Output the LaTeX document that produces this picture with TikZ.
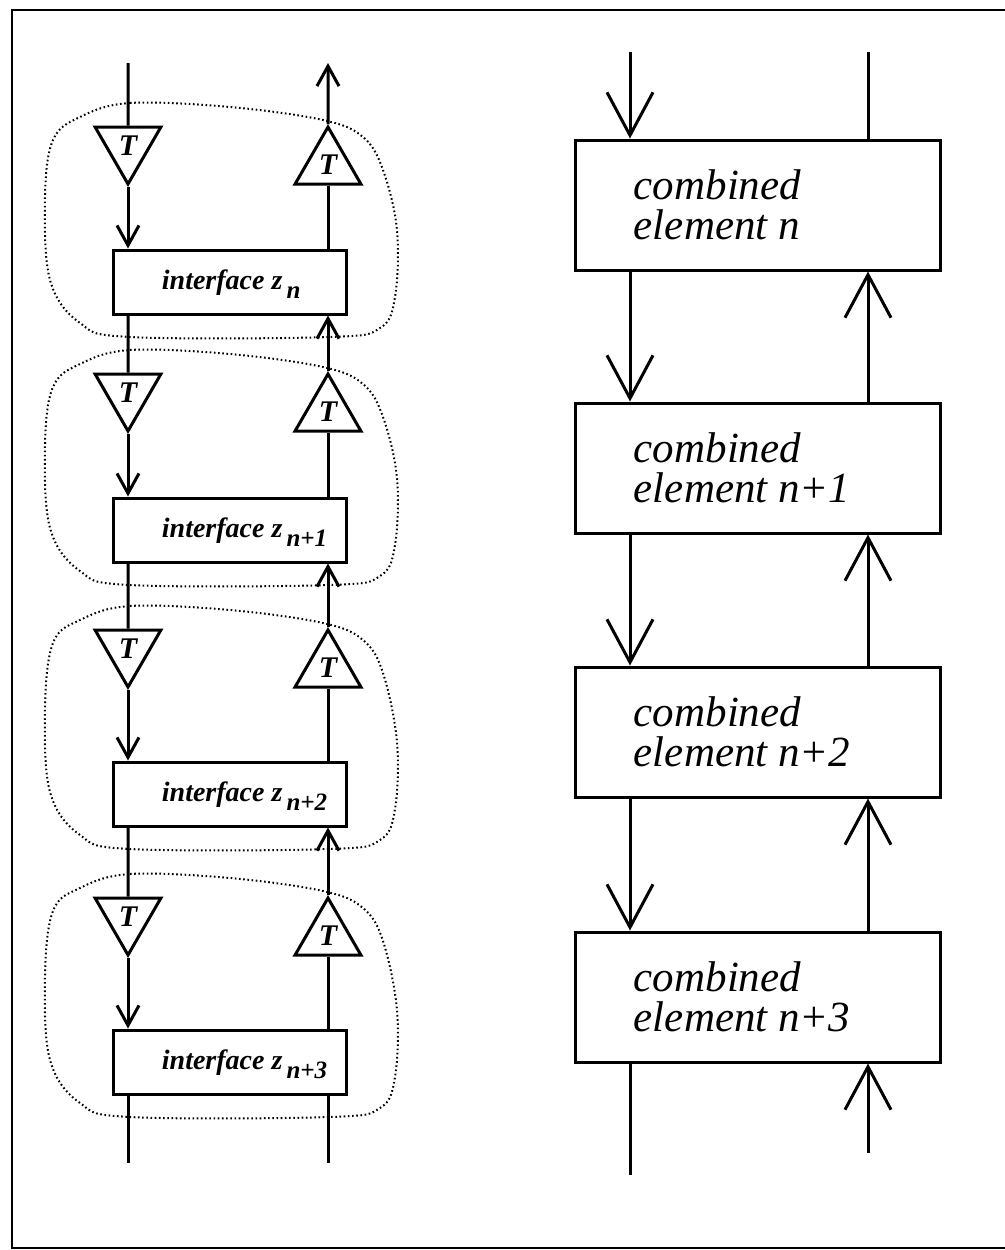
\documentclass[tikz,border=0pt]{standalone}
\usepackage{fontspec}
\newfontfamily\ifont{Liberation Serif}
\usetikzlibrary{arrows.meta,shapes.geometric}
\newcommand{\zsub}[1]{z\raisebox{-4.5pt}{\fontsize{12.5}{12.5}\selectfont\,#1}}
\tikzset{
  wire/.style={line width=1.5pt},
  sarr/.style={wire, -{Straight Barb[length=10pt, width=11pt]}},
  barr/.style={wire, -{Straight Barb[length=21.5pt, width=23pt]}},
  ifbox/.style={draw, line width=1.5pt, minimum width=116.5pt, minimum height=32pt, inner sep=0pt},
  elbox/.style={draw, line width=1.5pt, minimum width=182.5pt, minimum height=65pt, inner sep=0pt},
  tdown/.style={draw, line width=1.5pt, regular polygon, regular polygon sides=3, shape border rotate=180,
    minimum size=38pt, inner sep=0pt, font=\ifont\fontsize{15}{15}\selectfont\bfseries\itshape},
  tup/.style={draw, line width=1.5pt, regular polygon, regular polygon sides=3,
    minimum size=38pt, inner sep=0pt, font=\ifont\fontsize{15}{15}\selectfont\bfseries\itshape},
  iftxt/.style={inner sep=0pt, anchor=base west, font=\ifont\fontsize{14}{14}\selectfont\bfseries\itshape},
  eltxt/.style={inner sep=0pt, anchor=west, align=left, font=\ifont\fontsize{21.5}{20}\selectfont\itshape},
  blob/.style={line width=1pt, dash pattern=on 0.8pt off 1.3pt},
}
\begin{document}
\begin{tikzpicture}[x=0.5pt, y=-0.5pt]
\useasboundingbox (0,0) rectangle (1005,1250);
\draw[line width=1.2pt] (1005,10) -- (12,10) -- (12,1248) -- (1005,1248);

% left column
\node[tdown] (dL1) at (128,146) {T};
\node[tup] (uR1) at (328,165) {T};
\node[ifbox] (ifz1) at (229.5,282) {};
\node[iftxt] (ift1) at ([xshift=25pt, yshift=-3.5pt]ifz1.west) {interface \zsub{n}};

\node[tdown] (dL2) at (128,393) {T};
\node[tup] (uR2) at (328,412) {T};
\node[ifbox] (ifz2) at (229.5,530) {};
\node[iftxt] (ift2) at ([xshift=25pt, yshift=-3.5pt]ifz2.west) {interface \zsub{n+1}};

\node[tdown] (dL3) at (128,649) {T};
\node[tup] (uR3) at (328,668) {T};
\node[ifbox] (ifz3) at (229.5,794) {};
\node[iftxt] (ift3) at ([xshift=25pt, yshift=-3.5pt]ifz3.west) {interface \zsub{n+2}};

\node[tdown] (dL4) at (128,917) {T};
\node[tup] (uR4) at (328,936) {T};
\node[ifbox] (ifz4) at (229.5,1062) {};
\node[iftxt] (ift4) at ([xshift=25pt, yshift=-3.5pt]ifz4.west) {interface \zsub{n+3}};

\coordinate (inL) at (128,63);
\coordinate (outR) at (328,63);
\coordinate (endL) at (128,1163);
\coordinate (endR) at (328,1163);

\draw[wire] (inL) -- (dL1.north);
\draw[sarr] (uR1.north) -- (outR);
\draw[sarr] (dL1.south) -- (dL1.south |- ifz1.north);
\draw[wire] (uR1.south) -- (uR1.south |- ifz1.north);
\draw[wire] (ifz1.south -| dL2) -- (dL2.north);
\draw[sarr] (uR2.north) -- (uR2.north |- ifz1.south);
\draw[sarr] (dL2.south) -- (dL2.south |- ifz2.north);
\draw[wire] (uR2.south) -- (uR2.south |- ifz2.north);
\draw[wire] (ifz2.south -| dL3) -- (dL3.north);
\draw[sarr] (uR3.north) -- (uR3.north |- ifz2.south);
\draw[sarr] (dL3.south) -- (dL3.south |- ifz3.north);
\draw[wire] (uR3.south) -- (uR3.south |- ifz3.north);
\draw[wire] (ifz3.south -| dL4) -- (dL4.north);
\draw[sarr] (uR4.north) -- (uR4.north |- ifz3.south);
\draw[sarr] (dL4.south) -- (dL4.south |- ifz4.north);
\draw[wire] (uR4.south) -- (uR4.south |- ifz4.north);
\draw[wire] (ifz4.south -| endL) -- (endL);
\draw[wire] (endR) -- (endR |- ifz4.south);

\foreach \ya/\yb in {127/250, 374/498, 630/762, 898/1030}
  \draw[blob] plot[smooth cycle, tension=0.6] coordinates {(80,\ya-10) (130,\ya-24) (230,\ya-20)
    (323,\ya-7) (363,\ya+10) (383,\ya+43) (397,\yb-20) (395,\yb+47) (380,\yb+78) (330,\yb+87)
    (130,\yb+87) (80,\yb+73) (50,\yb+30) (45,\yb-53) (53,\ya+13)};

% right column
\node[elbox] (ce1) at (757.5,205) {};
\node[eltxt] (cet1) at ([xshift=30pt]ce1.west) {combined\\element n};
\node[elbox] (ce2) at (757.5,468) {};
\node[eltxt] (cet2) at ([xshift=30pt]ce2.west) {combined\\element n+1};
\node[elbox] (ce3) at (757.5,732) {};
\node[eltxt] (cet3) at ([xshift=30pt]ce3.west) {combined\\element n+2};
\node[elbox] (ce4) at (757.5,997) {};
\node[eltxt] (cet4) at ([xshift=30pt]ce4.west) {combined\\element n+3};

\coordinate (cin) at (630,52);
\coordinate (cout) at (868,52);
\coordinate (cend) at (630,1175);
\coordinate (cstart) at (868,1153);

\draw[barr] (cin) -- (cin |- ce1.north);
\draw[wire] (cout |- ce1.north) -- (cout);
\draw[barr] (ce1.south -| cin) -- (ce2.north -| cin);
\draw[barr] (ce2.north -| cout) -- (ce1.south -| cout);
\draw[barr] (ce2.south -| cin) -- (ce3.north -| cin);
\draw[barr] (ce3.north -| cout) -- (ce2.south -| cout);
\draw[barr] (ce3.south -| cin) -- (ce4.north -| cin);
\draw[barr] (ce4.north -| cout) -- (ce3.south -| cout);
\draw[wire] (ce4.south -| cend) -- (cend);
\draw[barr] (cstart) -- (cstart |- ce4.south);
\end{tikzpicture}
\end{document}
